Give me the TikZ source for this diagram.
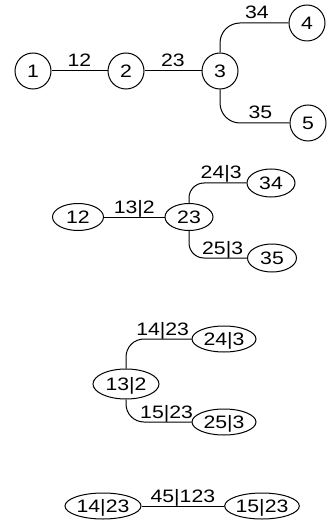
\documentclass[tikz,border=0pt]{standalone}
\usepackage{fontspec}
\usepackage{graphicx}
\setmainfont{Liberation Sans}
\usetikzlibrary{shapes.geometric}
\newcommand{\tx}[1]{\scalebox{1.18}[1]{#1}}
\begin{document}
\begin{tikzpicture}[x=1pt,y=-1pt,
  every node/.style={font=\fontsize{18}{21}\selectfont, inner sep=0pt, text height=13pt, text depth=0pt},
  vtx/.style={circle, draw, line width=1pt, minimum size=36pt},
  ell/.style={ellipse, draw, line width=1pt},
  edge/.style={line width=1pt},
  lbl/.style={anchor=base, yshift=4pt, text height=, text depth=}
]
\useasboundingbox (0,0) rectangle (332,529);
% tree 1
\node[vtx] (n1) at (33,71) {\tx{1}};
\node[vtx] (n2) at (126,71) {\tx{2}};
\node[vtx] (n3) at (220,71) {\tx{3}};
\node[vtx] (n4) at (307,23) {\tx{4}};
\node[vtx] (n5) at (308,123) {\tx{5}};
\draw[edge] (n1) -- node[lbl] (l12) {\tx{12}} (n2);
\draw[edge] (n2) -- node[lbl] (l23) {\tx{23}} (n3);
\draw[edge, rounded corners=20pt] (n3.north) |- node[lbl, pos=0.77] (l34) {\tx{34}} (n4.west);
\draw[edge, rounded corners=20pt] (n3.south) |- node[lbl, pos=0.79] (l35) {\tx{35}} (n5.west);
% tree 2
\node[ell, minimum width=51pt, minimum height=27pt] (e12) at (78,217) {\tx{12}};
\node[ell, minimum width=48pt, minimum height=27pt] (e23) at (189,217) {\tx{23}};
\node[ell, minimum width=48pt, minimum height=28pt] (e34) at (271,183) {\tx{34}};
\node[ell, minimum width=49pt, minimum height=28pt] (e35) at (272,258) {\tx{35}};
\draw[edge] (e12) -- node[lbl] (l132) {\tx{13|2}} (e23);
\draw[edge, rounded corners=15pt] (e23.north) |- node[lbl, pos=0.78] (l243) {\tx{24|3}} (e34.west);
\draw[edge, rounded corners=15pt] (e23.south) |- node[lbl, pos=0.79] (l253) {\tx{25|3}} (e35.west);
% tree 3
\node[ell, minimum width=66pt, minimum height=30pt] (e132) at (126,384) {\tx{13|2}};
\node[ell, minimum width=64pt, minimum height=26pt] (e243) at (224,339) {\tx{24|3}};
\node[ell, minimum width=64pt, minimum height=26pt] (e253) at (224,422) {\tx{25|3}};
\draw[edge, rounded corners=18pt] (e132.north) |- node[lbl, pos=0.78] (l1423) {\tx{14|23}} (e243.west);
\draw[edge, rounded corners=18pt] (e132.south) |- node[lbl, pos=0.81] (l1523) {\tx{15|23}} (e253.west);
% tree 4
\node[ell, minimum width=76pt, minimum height=26pt] (e1423) at (103,506) {\tx{14|23}};
\node[ell, minimum width=72pt, minimum height=26pt] (e1523) at (262,506) {\tx{15|23}};
\draw[edge] (e1423) -- node[lbl] (l45123) {\tx{45|123}} (e1523);
\end{tikzpicture}
\end{document}
